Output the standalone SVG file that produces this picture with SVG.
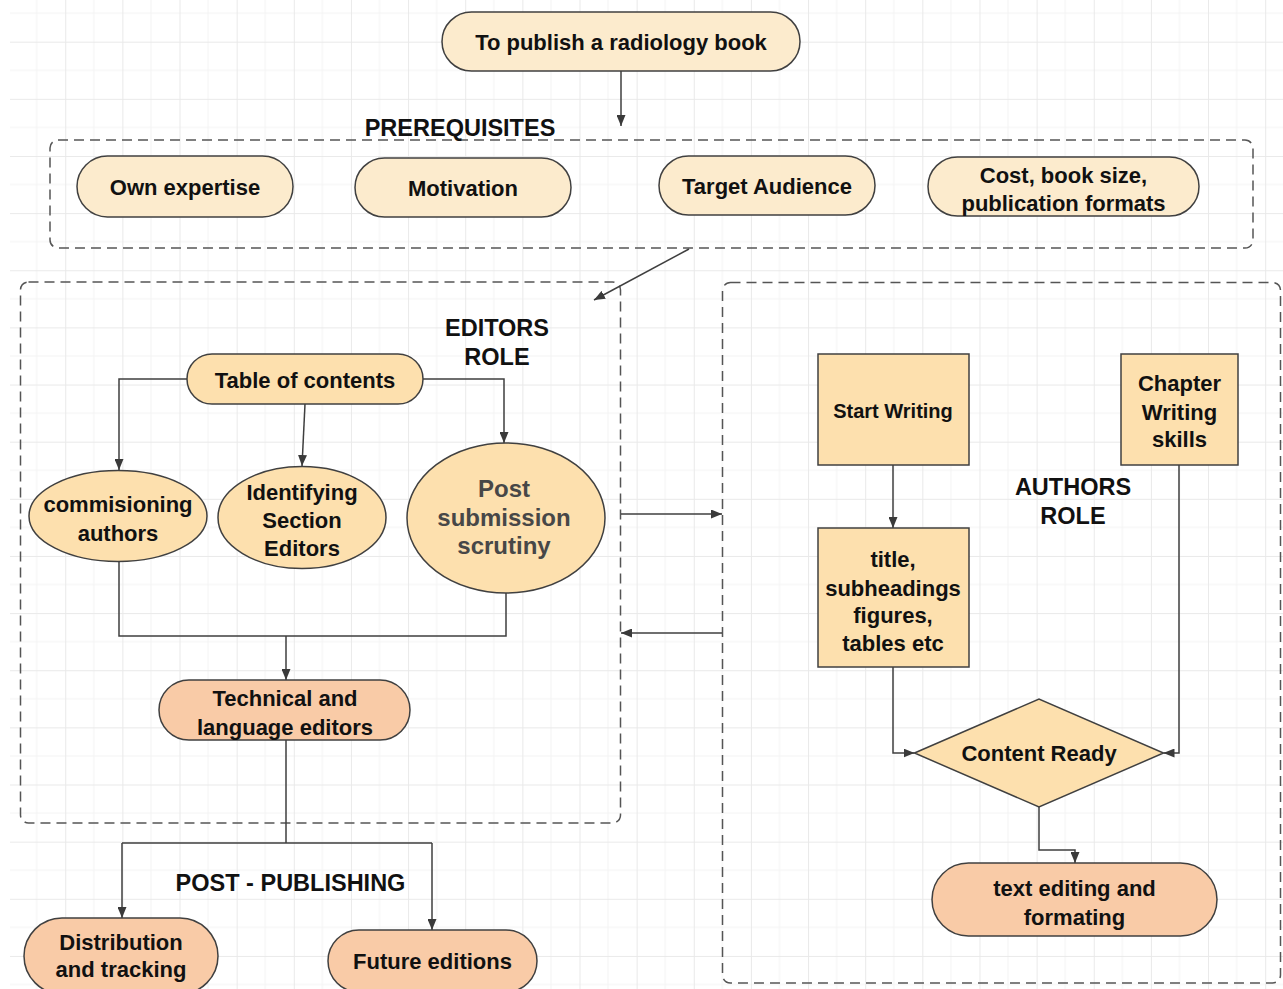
<svg xmlns="http://www.w3.org/2000/svg" width="1283" height="989" viewBox="0 0 1283 989">
<defs>
<pattern id="grid" x="8.1" y="-15.44" width="57.14" height="57.14" patternUnits="userSpaceOnUse">
<path d="M28.57,0 V57.14 M0,28.57 H57.14" stroke="#f3f3f3" stroke-width="1" fill="none"/>
<path d="M0.5,0 V57.14 M0,0.5 H57.14" stroke="#e9e9e9" stroke-width="1" fill="none"/>
</pattern>
<marker id="arr" viewBox="0 0 11 9" refX="11" refY="4.5" markerWidth="11" markerHeight="9" markerUnits="userSpaceOnUse" orient="auto">
<path d="M0,0 L11,4.5 L0,9 z" fill="#3a3a3a"/>
</marker>
<style>
.box{fill:none;stroke:#555;stroke-width:1.5;stroke-dasharray:10 6}
.c{fill:none;stroke:#3f3f3f;stroke-width:1.5}
.lt{fill:#fcebcd;stroke:#404040;stroke-width:1.5}
.md{fill:#fde0ae;stroke:#404040;stroke-width:1.5}
.sa{fill:#f9cba7;stroke:#404040;stroke-width:1.5}
text{font-family:"Liberation Sans",Arial,Helvetica,sans-serif;font-weight:bold;fill:#111;text-anchor:middle}
.t{font-size:22px}
.h{font-size:23.5px}
.g{font-size:24px;fill:#474747}
.s{font-size:20px}
</style>
</defs>
<rect width="1283" height="989" fill="#ffffff"/>
<rect x="10" y="0" width="1273" height="989" fill="url(#grid)"/>

<g id="containers">
<rect class="box" x="50" y="140" width="1203" height="108" rx="8"/>
<rect class="box" x="20.5" y="282" width="600" height="541" rx="8"/>
<rect class="box" x="722.5" y="282.5" width="558" height="700.5" rx="8"/>
</g>

<g id="connectors">
<path class="c" d="M621,71 V126" marker-end="url(#arr)"/>
<path class="c" d="M689,249 L594,300" marker-end="url(#arr)"/>
<path class="c" d="M187,379 H119 V470" marker-end="url(#arr)"/>
<path class="c" d="M305,404 L302,466" marker-end="url(#arr)"/>
<path class="c" d="M423,379 H504 V443" marker-end="url(#arr)"/>
<path class="c" d="M119,561.5 V636 H506 V593"/>
<path class="c" d="M286,636 V680" marker-end="url(#arr)"/>
<path class="c" d="M286,740 V843 M122,843 H432"/>
<path class="c" d="M122,843 V918" marker-end="url(#arr)"/>
<path class="c" d="M432,843 V930" marker-end="url(#arr)"/>
<path class="c" d="M621,514 H722" marker-end="url(#arr)"/>
<path class="c" d="M722,633 H621" marker-end="url(#arr)"/>
<path class="c" d="M893,465 V528" marker-end="url(#arr)"/>
<path class="c" d="M893,667 V753 H914.5" marker-end="url(#arr)"/>
<path class="c" d="M1179,465 V753 H1163.5" marker-end="url(#arr)"/>
<path class="c" d="M1039,807 V850 H1075 V863" marker-end="url(#arr)"/>
</g>

<g id="n-goal">
<rect class="lt" x="442" y="12" width="358" height="59" rx="29.5"/>
<text class="t" x="621" y="50">To publish a radiology book</text>
</g>
<g id="n-expertise">
<rect class="lt" x="77" y="156" width="216" height="61" rx="30.5"/>
<text class="t" x="185" y="194.5">Own expertise</text>
</g>
<g id="n-motivation">
<rect class="lt" x="355" y="158" width="216" height="59" rx="29.5"/>
<text class="t" x="463" y="195.5">Motivation</text>
</g>
<g id="n-audience">
<rect class="lt" x="659" y="156" width="216" height="59" rx="29.5"/>
<text class="t" x="767" y="193.5">Target Audience</text>
</g>
<g id="n-cost">
<rect class="lt" x="928" y="157" width="271" height="59" rx="29.5"/>
<text class="t" x="1063.5" y="183">Cost, book size,</text>
<text class="t" x="1063.5" y="211">publication formats</text>
</g>

<g id="n-toc">
<rect class="md" x="187" y="354" width="236" height="50" rx="25"/>
<text class="t" x="305" y="388">Table of contents</text>
</g>
<g id="n-commissioning">
<ellipse class="md" cx="118" cy="516" rx="89" ry="45.5"/>
<text class="t" x="118" y="512">commisioning</text>
<text class="t" x="118" y="541">authors</text>
</g>
<g id="n-section-editors">
<ellipse class="md" cx="302" cy="517.5" rx="84" ry="51"/>
<text class="t" x="302" y="499.7">Identifying</text>
<text class="t" x="302" y="528">Section</text>
<text class="t" x="302" y="555.7">Editors</text>
</g>
<g id="n-scrutiny">
<ellipse class="md" cx="506" cy="518" rx="99" ry="75"/>
<text class="g" x="504" y="497">Post</text>
<text class="g" x="504" y="526">submission</text>
<text class="g" x="504" y="554">scrutiny</text>
</g>
<g id="n-tech-editors">
<rect class="sa" x="159" y="680" width="251" height="60" rx="30"/>
<text class="t" x="285" y="705.7">Technical and</text>
<text class="t" x="285" y="734.7">language editors</text>
</g>
<g id="n-distribution">
<rect class="sa" x="24" y="918" width="194" height="76" rx="38"/>
<text class="t" x="121" y="949.7">Distribution</text>
<text class="t" x="121" y="977.3">and tracking</text>
</g>
<g id="n-future">
<rect class="sa" x="328" y="930" width="209" height="62" rx="31"/>
<text class="t" x="432.5" y="969">Future editions</text>
</g>

<g id="n-start-writing">
<rect class="md" x="818" y="354" width="151" height="111"/>
<text class="s" x="893" y="418">Start Writing</text>
</g>
<g id="n-chapter-skills">
<rect class="md" x="1121" y="354" width="117" height="111"/>
<text class="t" x="1179.5" y="391.3">Chapter</text>
<text class="t" x="1179.5" y="419.7">Writing</text>
<text class="t" x="1179.5" y="447">skills</text>
</g>
<g id="n-structure">
<rect class="md" x="818" y="528" width="151" height="139"/>
<text class="t" x="893" y="567.3">title,</text>
<text class="t" x="893" y="595.7">subheadings</text>
<text class="t" x="893" y="623">figures,</text>
<text class="t" x="893" y="651.3">tables etc</text>
</g>
<g id="n-content-ready">
<polygon class="md" points="914.5,753 1039,699 1163.5,753 1039,807"/>
<text class="t" x="1039" y="761">Content Ready</text>
</g>
<g id="n-text-editing">
<rect class="sa" x="932" y="863" width="285" height="73" rx="36.5"/>
<text class="t" x="1074.5" y="896.3">text editing and</text>
<text class="t" x="1074.5" y="925.3">formating</text>
</g>

<g id="labels">
<text class="h" x="460" y="135.5">PREREQUISITES</text>
<text class="h" x="497" y="336.2">EDITORS</text>
<text class="h" x="497" y="364.5">ROLE</text>
<text class="h" x="1073" y="495">AUTHORS</text>
<text class="h" x="1073" y="523.5">ROLE</text>
<text class="h" x="290.5" y="891">POST - PUBLISHING</text>
</g>
</svg>
